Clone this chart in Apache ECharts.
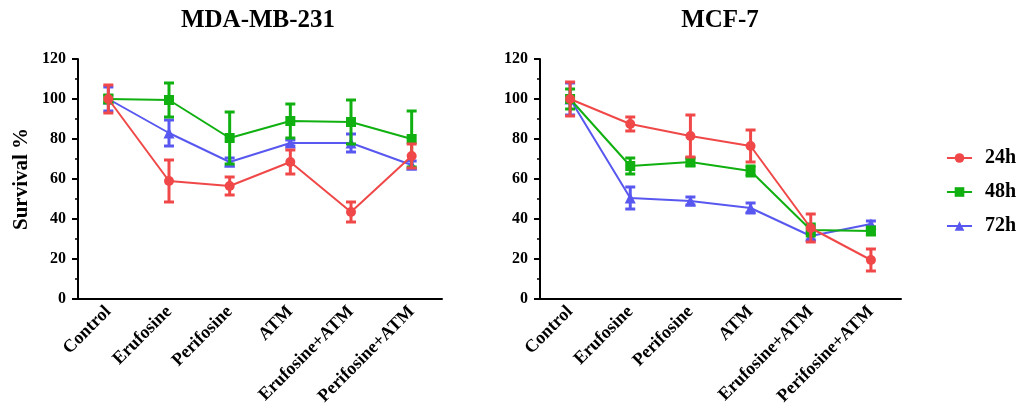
<!DOCTYPE html>
<html>
<head>
<meta charset="utf-8">
<script src="https://cdn.jsdelivr.net/npm/echarts@6/dist/echarts.min.js"></script>
<style>html,body{margin:0;padding:0;background:#fff}#c{width:1021px;height:416px}</style>
</head>
<body>
<div id="c"></div>
<script>
const categories = ['Control','Erufosine','Perifosine','ATM','Erufosine+ATM','Perifosine+ATM'];
const yTicks = [0, 20, 40, 60, 80, 100, 120];
const seriesNames = ['24h','48h','72h'];

const mda24 = [100, 59, 56.5, 68.5, 43.5, 71.5];
const mda24Err = [7, 10.5, 4.5, 6, 5, 6];
const mda48 = [100, 99.5, 80.5, 89, 88.5, 80];
const mda48Err = [2, 8.5, 13, 8.5, 11, 14];
const mda72 = [100, 83, 68.5, 78, 78, 67];
const mda72Err = [6, 6.5, 2, 1.5, 4.5, 2];

const mcf24 = [100, 87.5, 81.5, 76.5, 35.5, 19.5];
const mcf24Err = [8.5, 3.5, 10.5, 8, 7, 5.5];
const mcf48 = [100, 66.5, 68.5, 64, 34.5, 34];
const mcf48Err = [5, 4, 2, 2.5, 3, 2];
const mcf72 = [100, 50.5, 49, 45.5, 31.5, 37.5];
const mcf72Err = [8, 5.5, 2, 2.5, 2, 1.5];

const colors = {'24h':'#F04848','48h':'#10B010','72h':'#5858F0'};
const symbols = {'24h':'circle','48h':'rect','72h':'triangle'};
const zs = {'24h':6,'48h':4,'72h':2};
const FONT = 'Liberation Serif';

const chart = echarts.init(document.getElementById('c'), null, {renderer:'canvas'});

function xAxis(gi){
  return {
    type:'category', gridIndex:gi, data:categories, boundaryGap:true,
    axisLine:{lineStyle:{color:'#000', width:2}},
    axisTick:{alignWithLabel:true, length:5, lineStyle:{color:'#000', width:2}},
    axisLabel:{rotate:45, color:'#000', fontFamily:FONT, fontWeight:'bold', fontSize:18, margin:10, interval:0}
  };
}
function yAxis(gi, withName){
  const a = {
    type:'value', gridIndex:gi, min:yTicks[0], max:yTicks[yTicks.length-1], interval:yTicks[1]-yTicks[0],
    axisLine:{show:true, lineStyle:{color:'#000', width:2}},
    axisTick:{show:true, length:6, lineStyle:{color:'#000', width:2}},
    minorTick:{show:true, splitNumber:2, length:3, lineStyle:{color:'#000', width:1.5}},
    splitLine:{show:false},
    axisLabel:{color:'#000', fontFamily:FONT, fontWeight:'bold', fontSize:16, margin:12}
  };
  if (withName){
    a.name = 'Survival %';
    a.nameLocation = 'middle';
    a.nameGap = 46;
    a.nameTextStyle = {color:'#000', fontFamily:FONT, fontWeight:'bold', fontSize:21};
  }
  return a;
}

function lineSeries(name, gi, vals){
  return {
    type:'line', name:name, xAxisIndex:gi, yAxisIndex:gi, data:vals,
    symbol:symbols[name], symbolSize: name==='72h'?11:10,
    itemStyle:{color:colors[name]}, lineStyle:{color:colors[name], width:2},
    z:zs[name]+1, animation:false
  };
}
function errSeries(name, gi, vals, errs){
  return {
    type:'custom', name:name+' err', xAxisIndex:gi, yAxisIndex:gi,
    data: vals.map((v,i)=>[i, v-errs[i], v+errs[i]]),
    encode:{x:0, y:[1,2]},
    z:zs[name], animation:false, silent:true,
    renderItem:function(params, api){
      const lo = api.coord([api.value(0), api.value(1)]);
      const hi = api.coord([api.value(0), api.value(2)]);
      const hw = 5;
      const st = {stroke:colors[name], lineWidth:3};
      return {type:'group', children:[
        {type:'line', shape:{x1:lo[0], y1:lo[1], x2:hi[0], y2:hi[1]}, style:st},
        {type:'line', shape:{x1:lo[0]-hw, y1:lo[1], x2:lo[0]+hw, y2:lo[1]}, style:st},
        {type:'line', shape:{x1:hi[0]-hw, y1:hi[1], x2:hi[0]+hw, y2:hi[1]}, style:st}
      ]};
    }
  };
}

const option = {
  backgroundColor:'#fff',
  animation:false,
  title:[
    {text:'MDA-MB-231', left:258, top:8, textAlign:'center', padding:0,
     textStyle:{color:'#000', fontFamily:FONT, fontWeight:'bold', fontSize:25}},
    {text:'MCF-7', left:720, top:8, textAlign:'center', padding:0,
     textStyle:{color:'#000', fontFamily:FONT, fontWeight:'bold', fontSize:25}}
  ],
  legend:{
    orient:'vertical', left:946, top:148, data:seriesNames,
    itemWidth:25, itemHeight:12, itemGap:14, padding:0,
    textStyle:{color:'#000', fontFamily:FONT, fontWeight:'bold', fontSize:20, padding:[0,0,0,8]}
  },
  grid:[
    {left:78, top:59, width:364, height:240},
    {left:540, top:59, width:361, height:240}
  ],
  xAxis:[xAxis(0), xAxis(1)],
  yAxis:[yAxis(0,true), yAxis(1,false)],
  series:[
    errSeries('72h',0,mda72,mda72Err), lineSeries('72h',0,mda72),
    errSeries('48h',0,mda48,mda48Err), lineSeries('48h',0,mda48),
    errSeries('24h',0,mda24,mda24Err), lineSeries('24h',0,mda24),
    errSeries('72h',1,mcf72,mcf72Err), lineSeries('72h',1,mcf72),
    errSeries('48h',1,mcf48,mcf48Err), lineSeries('48h',1,mcf48),
    errSeries('24h',1,mcf24,mcf24Err), lineSeries('24h',1,mcf24)
  ]
};
chart.setOption(option);
</script>
</body>
</html>
